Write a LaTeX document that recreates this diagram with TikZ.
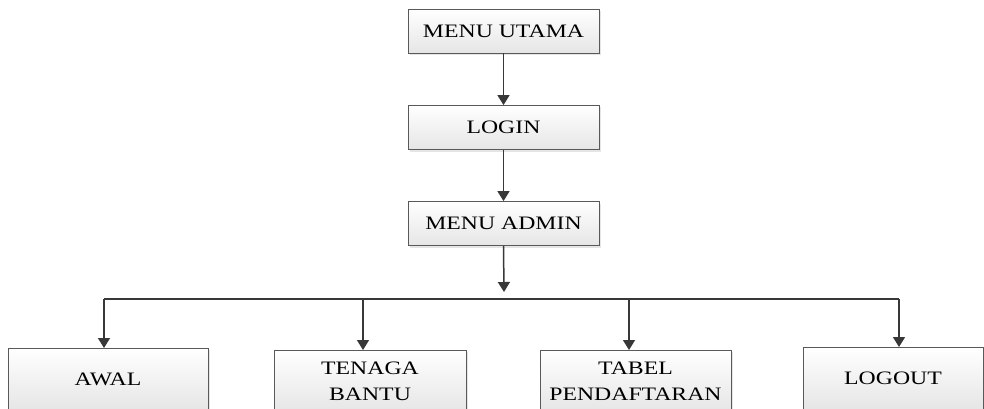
\documentclass[tikz,border=0pt]{standalone}
\usepackage{fontspec}
\setmainfont{Liberation Serif}
\newfontfamily\boxfont[FakeStretch=1.25]{Liberation Serif}
\usetikzlibrary{calc,shadows,arrows.meta}
\begin{document}
\begin{tikzpicture}[x=1pt,y=-1pt,
  menubox/.style={draw=black!65, line width=0.8pt,
    top color=white, bottom color=black!10,
    drop shadow={shadow xshift=2pt, shadow yshift=-2pt, opacity=0.25, fill=black!40},
    minimum height=44pt, inner sep=0pt, align=center,
    font=\boxfont\fontsize{19}{26}\selectfont},
  link/.style={draw=black!78, line width=1.5pt},
  arr/.style={link, -{Triangle[length=10pt,width=12pt]}}]
  \useasboundingbox (0,0) rectangle (984,409);
  \clip (0,0) rectangle (984,409);

  % main chain
  \node[menubox, minimum width=191pt] (utama) at (503.5,31) {MENU UTAMA};
  \node[menubox, minimum width=191pt] (login) at (503.5,127.5) {LOGIN};
  \node[menubox, minimum width=191pt] (admin) at (503.5,223.5) {MENU ADMIN};

  % sub menus (cut by the lower edge)
  \node[menubox, minimum width=200pt, minimum height=62pt, anchor=north] (awal) at (108,348) {AWAL};
  \node[menubox, minimum width=192pt, minimum height=62pt, anchor=north] (tenaga) at (370,350) {TENAGA\\BANTU};
  \node[menubox, minimum width=191pt, minimum height=62pt, anchor=north] (tabel) at (635.5,350) {TABEL\\PENDAFTARAN};
  \node[menubox, minimum width=180pt, minimum height=62pt, anchor=north] (logout) at (893,347) {LOGOUT};

  \draw[arr] (utama.south) -- (login.north);
  \draw[arr] (login.south) -- (admin.north);

  % distribution bus
  \coordinate (hub) at (504,292);
  \coordinate (b1) at (104,299);
  \coordinate (b2) at (363,299);
  \coordinate (b3) at (629,299);
  \coordinate (b4) at (899,299);
  \draw[arr] (admin.south) -- (hub);
  \draw[link] (b1) -- (b4);
  \draw[arr] (b1) -- (b1 |- awal.north);
  \draw[arr] (b2) -- (b2 |- tenaga.north);
  \draw[arr] (b3) -- (b3 |- tabel.north);
  \draw[arr] (b4) -- (b4 |- logout.north);
\end{tikzpicture}
\end{document}
